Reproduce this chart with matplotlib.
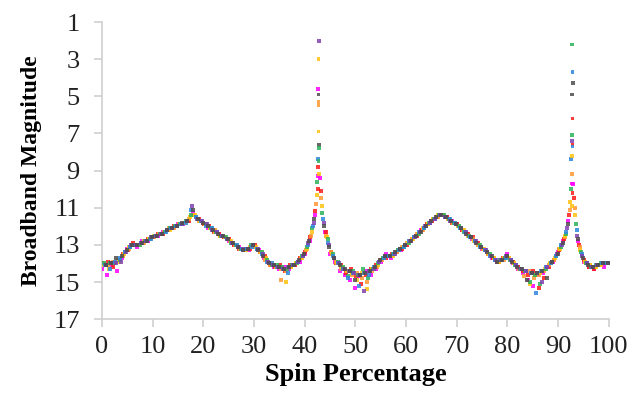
import numpy as np
import matplotlib

matplotlib.use('Agg')
import matplotlib.pyplot as plt

# Donnees : une magnitude par pourcent de spin et par serie
spin_pct = np.arange(0, 100)
serie_offsets = [0.0, 0.125, 0.25, 0.375, 0.5, 0.625, 0.75, 0.875]
serie_colors = ['#FF00FF', '#FF1A1A', '#FF9933', '#FFC20E',
                '#2DB35A', '#2E86DE', '#8040B0', '#4D4D4D']

mag_s0 = [14.3, 14.6, 14.1, 14.4, 13.7, 13.2, 13.0, 13.1, 12.8, 12.8,
          12.6, 12.5, 12.3, 12.2, 12.1, 11.9, 11.9, 11.7, 11.3, 11.6,
          11.8, 12.1, 12.2, 12.4, 12.6, 12.8, 13.0, 13.1, 13.3, 13.3,
          13.1, 13.3, 13.7, 14.0, 14.2, 14.3, 14.2, 14.3, 14.1, 13.9,
          13.5, 12.8, 11.4, 9.4, 12.3, 13.5, 13.9, 14.4, 14.6, 14.9,
          15.3, 14.7, 14.4, 14.6, 14.3, 13.9, 13.5, 13.7, 13.4, 13.3,
          13.0, 12.8, 12.5, 12.2, 12.0, 11.7, 11.5, 11.4, 11.5, 11.7,
          11.9, 12.2, 12.4, 12.7, 12.9, 13.2, 13.4, 13.7, 13.9, 13.8,
          13.5, 14.0, 14.3, 14.5, 14.9, 15.2, 14.6, 14.5, 14.2, 13.9,
          13.4, 12.8, 11.7, 9.7, 12.8, 13.9, 14.2, 14.3, 14.1, 14.2]
mag_s1 = [14.0, 13.9, 14.2, 13.8, 13.5, 13.3, 12.9, 13.0, 12.9, 12.7,
          12.6, 12.4, 12.4, 12.2, 12.0, 11.9, 11.8, 11.7, 11.4, 11.6,
          11.9, 12.0, 12.3, 12.4, 12.6, 12.7, 13.0, 13.2, 13.2, 13.2,
          13.0, 13.4, 13.6, 14.1, 14.2, 14.1, 14.4, 14.1, 14.1, 13.7,
          13.4, 12.6, 11.2, 10.1, 12.3, 13.4, 14.0, 14.1, 14.5, 14.3,
          14.7, 15.1, 14.6, 14.3, 14.1, 13.8, 13.7, 13.5, 13.4, 13.2,
          13.0, 12.7, 12.5, 12.2, 11.9, 11.7, 11.5, 11.4, 11.5, 11.8,
          11.9, 12.2, 12.4, 12.6, 12.9, 13.2, 13.5, 13.7, 13.9, 13.7,
          13.7, 13.9, 14.2, 14.4, 14.6, 14.4, 15.3, 14.8, 14.2, 13.8,
          13.3, 12.7, 11.4, 10.5, 13.0, 13.8, 14.2, 14.3, 14.1, 14.0]
mag_s2 = [14.0, 14.1, 13.9, 13.8, 13.6, 13.2, 13.0, 13.0, 12.9, 12.7,
          12.6, 12.4, 12.3, 12.1, 12.1, 11.9, 11.8, 11.6, 11.4, 11.7,
          11.9, 12.1, 12.2, 12.5, 12.6, 12.8, 13.0, 13.2, 13.3, 13.1,
          13.1, 13.4, 13.8, 14.1, 14.2, 14.9, 14.4, 14.2, 14.0, 13.7,
          13.3, 12.5, 10.8, 10.5, 12.5, 13.4, 13.9, 14.3, 14.4, 14.6,
          14.5, 14.8, 15.0, 14.4, 14.2, 13.8, 13.6, 13.6, 13.4, 13.1,
          12.9, 12.7, 12.4, 12.2, 11.9, 11.6, 11.5, 11.4, 11.6, 11.8,
          12.0, 12.2, 12.5, 12.7, 13.0, 13.2, 13.5, 13.7, 13.9, 13.8,
          13.7, 14.0, 14.3, 14.7, 14.4, 14.8, 14.6, 14.4, 14.1, 13.8,
          13.2, 12.6, 11.1, 11.0, 13.1, 13.9, 14.1, 14.2, 14.1, 14.0]
mag_s3 = [14.1, 14.3, 14.0, 13.9, 13.5, 13.1, 13.0, 13.0, 12.8, 12.7,
          12.5, 12.4, 12.3, 12.2, 12.0, 11.9, 11.8, 11.5, 11.4, 11.7,
          11.9, 12.1, 12.3, 12.5, 12.6, 12.8, 13.0, 13.2, 13.3, 13.1,
          13.1, 13.4, 13.7, 14.0, 14.2, 14.3, 15.0, 14.2, 14.0, 13.7,
          13.2, 12.3, 10.3, 10.9, 12.6, 13.5, 14.0, 14.2, 14.4, 14.5,
          14.9, 14.5, 15.4, 14.3, 14.1, 13.7, 13.6, 13.6, 13.3, 13.1,
          12.9, 12.7, 12.4, 12.1, 11.9, 11.6, 11.4, 11.4, 11.6, 11.8,
          12.0, 12.2, 12.5, 12.8, 13.0, 13.2, 13.5, 13.7, 13.9, 13.7,
          13.7, 14.0, 14.3, 14.4, 15.1, 14.6, 14.5, 14.3, 14.0, 13.7,
          13.2, 12.5, 10.7, 11.4, 13.3, 13.9, 14.1, 14.2, 14.1, 14.0]
mag_s4 = [14.0, 14.0, 14.0, 13.8, 13.4, 13.1, 13.0, 13.0, 12.8, 12.7,
          12.5, 12.4, 12.3, 12.1, 12.0, 11.9, 11.7, 11.4, 11.5, 11.7,
          11.9, 12.1, 12.3, 12.5, 12.6, 12.9, 13.0, 13.2, 13.2, 13.0,
          13.2, 13.4, 13.8, 14.1, 14.1, 14.2, 14.3, 14.1, 14.0, 13.6,
          13.1, 12.1, 9.6, 11.3, 12.7, 13.5, 13.9, 14.2, 14.7, 14.4,
          14.6, 14.3, 14.8, 14.3, 14.0, 13.7, 13.6, 13.5, 13.3, 13.1,
          12.9, 12.6, 12.4, 12.1, 11.8, 11.6, 11.4, 11.4, 11.6, 11.8,
          12.0, 12.3, 12.5, 12.8, 13.0, 13.3, 13.5, 13.8, 13.8, 13.7,
          13.8, 14.1, 14.3, 14.4, 15.0, 14.6, 15.1, 14.3, 14.0, 13.6,
          13.1, 12.4, 10.0, 11.9, 13.4, 14.0, 14.2, 14.1, 14.0, 14.0]
mag_s5 = [14.1, 14.3, 13.9, 13.7, 13.4, 13.1, 13.0, 12.9, 12.8, 12.7,
          12.5, 12.4, 12.3, 12.1, 12.0, 11.9, 11.8, 11.1, 11.5, 11.7,
          12.0, 12.1, 12.3, 12.5, 12.7, 12.9, 13.0, 13.2, 13.2, 13.1,
          13.2, 13.5, 13.9, 14.0, 14.2, 14.3, 14.5, 14.1, 13.9, 13.6,
          13.0, 12.0, 8.4, 11.6, 12.9, 13.6, 14.0, 14.3, 14.8, 14.5,
          15.2, 14.5, 14.6, 14.2, 13.9, 13.7, 13.6, 13.5, 13.3, 13.1,
          12.8, 12.6, 12.3, 12.1, 11.8, 11.6, 11.4, 11.5, 11.6, 11.8,
          12.1, 12.3, 12.6, 12.8, 13.1, 13.3, 13.6, 13.8, 13.8, 13.7,
          13.8, 14.1, 14.3, 14.4, 14.5, 15.6, 14.4, 14.2, 14.0, 13.6,
          13.0, 12.3, 8.4, 12.2, 13.5, 14.0, 14.2, 14.1, 14.0, 14.0]
mag_s6 = [14.1, 14.0, 14.0, 13.9, 13.4, 13.0, 13.0, 12.9, 12.8, 12.6,
          12.5, 12.4, 12.2, 12.1, 12.0, 11.9, 11.7, 10.9, 11.6, 11.7,
          11.9, 12.2, 12.3, 12.5, 12.7, 12.9, 13.1, 13.2, 13.2, 13.0,
          13.2, 13.5, 13.9, 14.1, 14.2, 14.3, 14.2, 14.1, 13.9, 13.6,
          12.9, 11.8, 2.0, 11.8, 13.0, 13.7, 14.0, 14.3, 14.4, 14.5,
          14.6, 15.5, 14.4, 14.3, 13.9, 13.6, 13.6, 13.5, 13.2, 13.0,
          12.8, 12.6, 12.3, 12.0, 11.8, 11.6, 11.4, 11.5, 11.7, 11.9,
          12.1, 12.3, 12.6, 12.8, 13.1, 13.3, 13.6, 13.8, 13.8, 13.6,
          13.8, 14.1, 14.3, 14.4, 14.5, 14.5, 15.0, 14.2, 13.9, 13.5,
          13.0, 12.1, 7.4, 12.5, 13.6, 14.0, 14.2, 14.1, 14.0, 14.0]
mag_s7 = [14.1, 14.0, 13.7, 13.6, 13.3, 13.0, 13.0, 12.9, 12.8, 12.6,
          12.5, 12.4, 12.2, 12.1, 12.0, 11.8, 11.7, 11.1, 11.6, 11.8,
          12.0, 12.2, 12.4, 12.5, 12.7, 12.9, 13.1, 13.3, 13.2, 13.0,
          13.3, 13.6, 14.0, 14.1, 14.2, 14.3, 14.2, 14.1, 13.8, 13.5,
          12.8, 11.6, 7.6, 12.0, 13.1, 13.7, 14.1, 14.3, 14.4, 14.9,
          14.6, 14.5, 14.4, 14.2, 13.8, 13.6, 13.6, 13.4, 13.2, 13.0,
          12.8, 12.5, 12.3, 12.0, 11.7, 11.5, 11.4, 11.5, 11.7, 11.9,
          12.1, 12.4, 12.6, 12.9, 13.1, 13.4, 13.6, 13.9, 13.8, 13.6,
          13.9, 14.2, 14.3, 14.9, 14.5, 14.5, 14.4, 14.8, 13.9, 13.5,
          12.9, 11.9, 4.3, 12.7, 13.7, 14.1, 14.2, 14.1, 14.0, 14.0]
series_mags = [mag_s0, mag_s1, mag_s2, mag_s3, mag_s4, mag_s5, mag_s6, mag_s7]

# Points supplementaires des deux pics (colonne quasi verticale)
flare1_spin = [42.7, 42.65, 42.75, 42.7, 42.7, 42.75, 42.8, 42.75, 42.65, 42.65, 42.8, 42.6]
flare1_mag = [3.0, 4.6, 4.9, 5.3, 5.5, 6.9, 7.8, 8.5, 8.8, 9.3, 9.2, 10.0]
flare1_serie = [3, 0, 7, 2, 2, 3, 4, 4, 1, 0, 3, 1]
flare2_spin = [92.75, 92.8, 92.75, 92.8, 92.75, 92.85, 92.8, 92.75, 92.7, 92.7, 92.8, 92.7]
flare2_mag = [2.2, 3.7, 4.9, 6.2, 7.1, 7.6, 7.7, 8.2, 9.2, 9.7, 10.2, 10.9]
flare2_serie = [4, 5, 7, 1, 4, 1, 5, 3, 2, 0, 1, 3]

plt.rcParams['font.family'] = ['Liberation Serif', 'DejaVu Serif']

fig = plt.figure(figsize=(6.29, 3.94), dpi=100)
ax = fig.add_axes([0.162, 0.19, 0.806, 0.754])

for off, col, mags in zip(serie_offsets, serie_colors, series_mags):
    ax.scatter(spin_pct + off, mags, s=7, marker='s', color=col,
               linewidths=0, alpha=0.85, zorder=3)

for spins, mags, idx in [(flare1_spin, flare1_mag, flare1_serie),
                         (flare2_spin, flare2_mag, flare2_serie)]:
    ax.scatter(spins, mags, s=7, marker='s',
               color=[serie_colors[i] for i in idx],
               linewidths=0, alpha=0.85, zorder=3)

ax.set_xlim(0, 100)
ax.set_ylim(17, 1)
ax.set_xticks(range(0, 101, 10))
ax.set_yticks(range(1, 18, 2))

for side in ['top', 'right']:
    ax.spines[side].set_visible(False)
for side in ['left', 'bottom']:
    ax.spines[side].set_color('#D0D0D0')
    ax.spines[side].set_linewidth(1.2)

ax.tick_params(axis='both', direction='out', length=6, width=1.2,
               color='#D0D0D0', labelsize=19, labelcolor='#222222')
ax.tick_params(axis='x', pad=6)
ax.tick_params(axis='y', pad=10)

ax.set_xlabel('Spin Percentage', fontsize=19, fontweight='bold', labelpad=4)
ax.set_ylabel('Broadband Magnitude', fontsize=17, fontweight='bold', labelpad=8)

fig.savefig('out.png', dpi=100)
